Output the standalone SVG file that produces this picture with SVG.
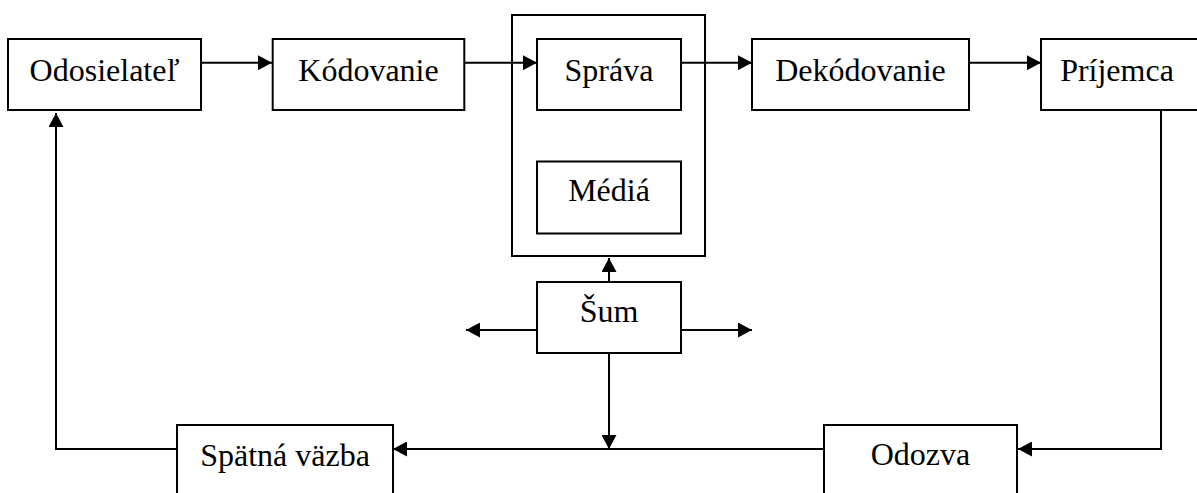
<svg xmlns="http://www.w3.org/2000/svg" width="1197" height="493" viewBox="0 0 1197 493">
<style>
.box{fill:#fff;stroke:#000;stroke-width:2}
.outer{fill:none;stroke:#000;stroke-width:2}
.t{font-family:"Liberation Serif","Times New Roman",serif;font-size:32px;fill:#000;text-anchor:middle}
.c{fill:none;stroke:#000;stroke-width:2}
</style>
<defs>
<marker id="ah" markerUnits="userSpaceOnUse" markerWidth="15" markerHeight="15" refX="14" refY="7.5" orient="auto">
<path d="M0,0 L14,7.5 L0,15 z" fill="#000"/>
</marker>
</defs>
<g id="media-frame"><rect class="outer" x="512" y="15" width="193" height="241"/></g>
<g id="connectors">
<path class="c" d="M201,62.7 H272" marker-end="url(#ah)"/>
<path class="c" d="M464,62.7 H537" marker-end="url(#ah)"/>
<path class="c" d="M681,62.7 H752" marker-end="url(#ah)"/>
<path class="c" d="M969,62.7 H1041" marker-end="url(#ah)"/>
<path class="c" d="M1161,110 V449 H1018" marker-end="url(#ah)"/>
<path class="c" d="M824,449 H393" marker-end="url(#ah)"/>
<path class="c" d="M177,449 H56 V113" marker-end="url(#ah)"/>
<path class="c" d="M609,353 V449" marker-end="url(#ah)"/>
<path class="c" d="M609,282 V258" marker-end="url(#ah)"/>
<path class="c" d="M537,330 H466" marker-end="url(#ah)"/>
<path class="c" d="M681,330 H752" marker-end="url(#ah)"/>
</g>
<g id="odosielatel"><rect class="box" x="8" y="39" width="193" height="71"/><text class="t" x="104.5" y="81">Odosielateľ</text></g>
<g id="kodovanie"><rect class="box" x="272.7" y="39" width="191.6" height="71"/><text class="t" x="368.5" y="81">Kódovanie</text></g>
<g id="sprava"><rect class="box" x="537" y="39" width="144" height="71"/><text class="t" x="609" y="81">Správa</text></g>
<g id="dekodovanie"><rect class="box" x="752" y="39" width="217" height="71"/><text class="t" x="860.5" y="81">Dekódovanie</text></g>
<g id="prijemca"><rect class="box" x="1041" y="39" width="170" height="71"/><text class="t" x="1117" y="81">Príjemca</text></g>
<g id="media"><rect class="box" x="537" y="161.5" width="144" height="72"/><text class="t" x="609" y="201">Médiá</text></g>
<g id="sum"><rect class="box" x="537" y="282" width="144" height="71"/><text class="t" x="609" y="322">Šum</text></g>
<g id="spatna-vazba"><rect class="box" x="177" y="425" width="216" height="80"/><text class="t" x="285" y="466">Spätná väzba</text></g>
<g id="odozva"><rect class="box" x="824" y="425" width="193" height="80"/><text class="t" x="920.5" y="465">Odozva</text></g>
</svg>
